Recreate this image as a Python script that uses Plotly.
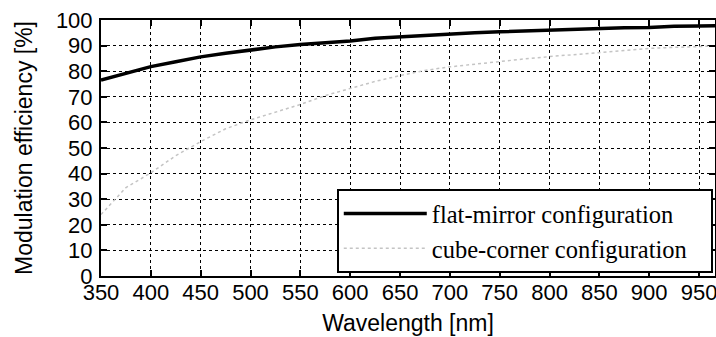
import plotly.graph_objects as go

wavelength = [350, 375, 400, 425, 450, 475, 500, 525, 550, 575, 600, 625, 650,
              675, 700, 725, 750, 775, 800, 825, 850, 875, 900, 925, 950, 970]
flat_mirror = [76.5, 79.2, 81.8, 83.7, 85.6, 87.0, 88.4, 89.5, 90.4, 91.1, 91.8,
               92.9, 93.5, 94.0, 94.7, 95.0, 95.4, 95.7, 96.1, 96.3, 96.9, 97.0,
               97.1, 97.6, 97.7, 97.8]
cube_corner = [24.0, 34.5, 40.3, 47.0, 52.5, 57.5, 61.0, 64.0, 67.0, 70.5, 73.3,
               76.0, 78.3, 80.3, 81.7, 82.8, 83.7, 84.8, 85.7, 86.5, 87.2, 88.0,
               88.9, 89.3, 89.6, 89.9]
series_names = ["flat-mirror configuration", "cube-corner configuration"]
x_ticks = list(range(350, 951, 50))
y_ticks = list(range(0, 101, 10))

pad = "\u00a0" * 3

fig = go.Figure()
fig.add_trace(go.Scatter(x=wavelength, y=flat_mirror, mode="lines",
                         name=series_names[0] + pad,
                         line=dict(color="black", width=3.5)))
fig.add_trace(go.Scatter(x=wavelength, y=cube_corner, mode="lines",
                         name=series_names[1] + pad,
                         line=dict(color="#c4c4c4", width=1.5, dash="dot")))

axis_common = dict(
    showline=True, linecolor="black", linewidth=2, mirror="ticks",
    ticks="inside", ticklen=6, tickwidth=1.5, tickcolor="black",
    showgrid=True, gridcolor="black", gridwidth=1, griddash="dot",
    zeroline=False, automargin=False, ticklabeloverflow="allow",
    tickfont=dict(family="Liberation Sans, Arial, sans-serif", size=22, color="black"),
)

fig.update_xaxes(range=[350, 966], tickvals=x_ticks, ticklabelstandoff=-4,
                 title=dict(text="Wavelength [nm]", standoff=10,
                            font=dict(family="Liberation Sans, Arial, sans-serif",
                                      size=23, color="black")),
                 **axis_common)
fig.update_yaxes(range=[0, 100], tickvals=y_ticks, ticklabelstandoff=2,
                 title=dict(text="Modulation efficiency [%]", standoff=17,
                            font=dict(family="Liberation Sans, Arial, sans-serif",
                                      size=23, color="black")),
                 **axis_common)

fig.update_layout(
    width=716, height=337,
    margin=dict(l=101, r=1, t=20, b=61),
    plot_bgcolor="white", paper_bgcolor="white",
    legend=dict(x=0.384, y=0.34, xanchor="left", yanchor="top",
                bgcolor="white", bordercolor="black", borderwidth=2,
                itemwidth=83,
                font=dict(family="Liberation Serif, Times New Roman, serif",
                          size=24.5, color="black"),
                tracegroupgap=0),
    showlegend=True,
)

fig.write_html("out.html",
               config={"displayModeBar": False},
               post_script="document.body.style.margin='0';"
                           "document.body.style.overflow='hidden';")
